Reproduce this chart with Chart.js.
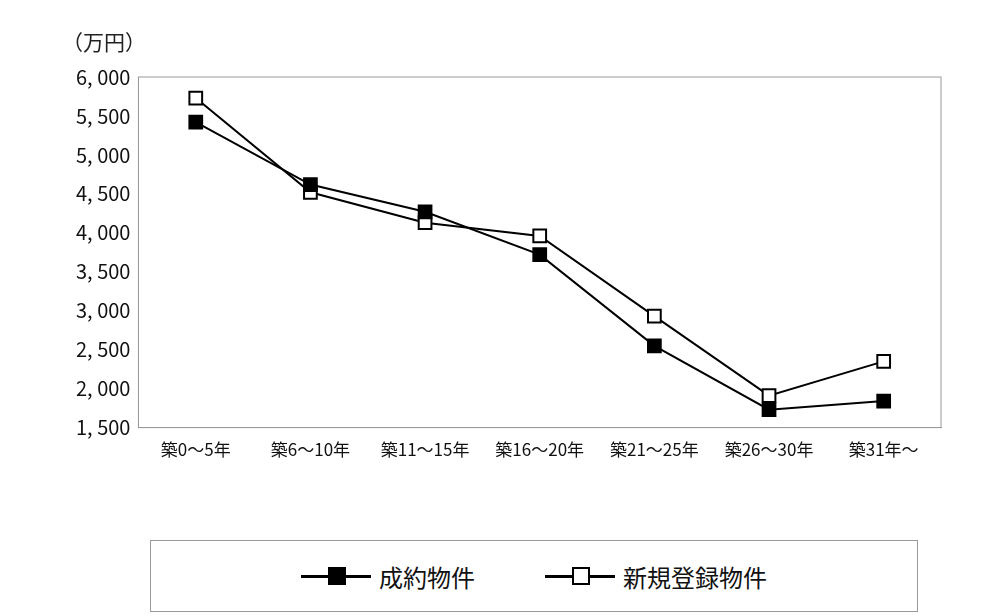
<!DOCTYPE html>
<html><head><meta charset="utf-8">
<script src="https://cdn.jsdelivr.net/npm/chart.js@4"></script>
<style>
body{margin:0;background:#fff;font-family:"Noto Sans CJK JP",sans-serif;}
#wrap{position:relative;width:996px;height:616px;}
#c{position:absolute;left:0;top:0;}
#unit{position:absolute;left:62px;top:26px;font-size:21px;color:#222;}
#leg{position:absolute;left:150px;top:540px;width:766px;height:70px;border:1px solid #999;display:flex;align-items:center;justify-content:center;gap:70px;font-size:24px;color:#111;}
.it{display:flex;align-items:center;}
.ln{position:relative;width:70px;height:3px;background:#000;margin-right:8px;}
.mk{position:absolute;left:27px;top:-8px;width:14px;height:14px;border:2px solid #000;}
</style></head><body>
<div id="wrap"><canvas id="c" width="996" height="530"></canvas>
<div id="unit">（万円）</div>
<div id="leg"><div class="it"><div class="ln"><div class="mk" style="background:#000"></div></div>成約物件</div>
<div class="it"><div class="ln"><div class="mk" style="background:#fff"></div></div>新規登録物件</div></div></div>
<script>
const categories=["築0～5年","築6～10年","築11～15年","築16～20年","築21～25年","築26～30年","築31年～"];
const contracted=[5420,4620,4270,3720,2550,1730,1840];
const newListings=[5730,4520,4130,3960,2930,1910,2350];
const yTicks=[1500,2000,2500,3000,3500,4000,4500,5000,5500,6000];
new Chart(document.getElementById('c'),{type:'line',
data:{labels:categories,datasets:[
{label:'成約物件',data:contracted,borderColor:'#000',borderWidth:2,pointStyle:'rect',pointRadius:9,pointBackgroundColor:'#000',pointBorderColor:'#000',pointBorderWidth:2,tension:0},
{label:'新規登録物件',data:newListings,borderColor:'#000',borderWidth:2,pointStyle:'rect',pointRadius:9,pointBackgroundColor:'#fff',pointBorderColor:'#000',pointBorderWidth:2,tension:0}]},
options:{responsive:false,animation:false,layout:{padding:{left:68,right:55,top:77,bottom:58}},
plugins:{legend:{display:false},tooltip:{enabled:false}},
scales:{x:{offset:true,grid:{display:false,drawTicks:false},border:{color:'#999'},ticks:{color:'#111',font:{size:17,family:'Noto Sans CJK JP'},maxRotation:0,padding:12}},
y:{min:1500,max:6000,afterBuildTicks:a=>{a.ticks=yTicks.map(v=>({value:v}));},grid:{display:false,drawTicks:false},border:{color:'#999'},
ticks:{color:'#111',font:{size:20,family:'Noto Sans CJK JP'},padding:8,callback:v=>v.toLocaleString('en-US').replace(',',', ')}}}},
plugins:[{id:'box',afterDraw(ch){const a=ch.chartArea,x=ch.ctx;x.save();x.strokeStyle='#999';x.lineWidth=1;x.strokeRect(a.left,a.top,a.right-a.left,a.bottom-a.top);x.restore();}}]
});
</script></body></html>
